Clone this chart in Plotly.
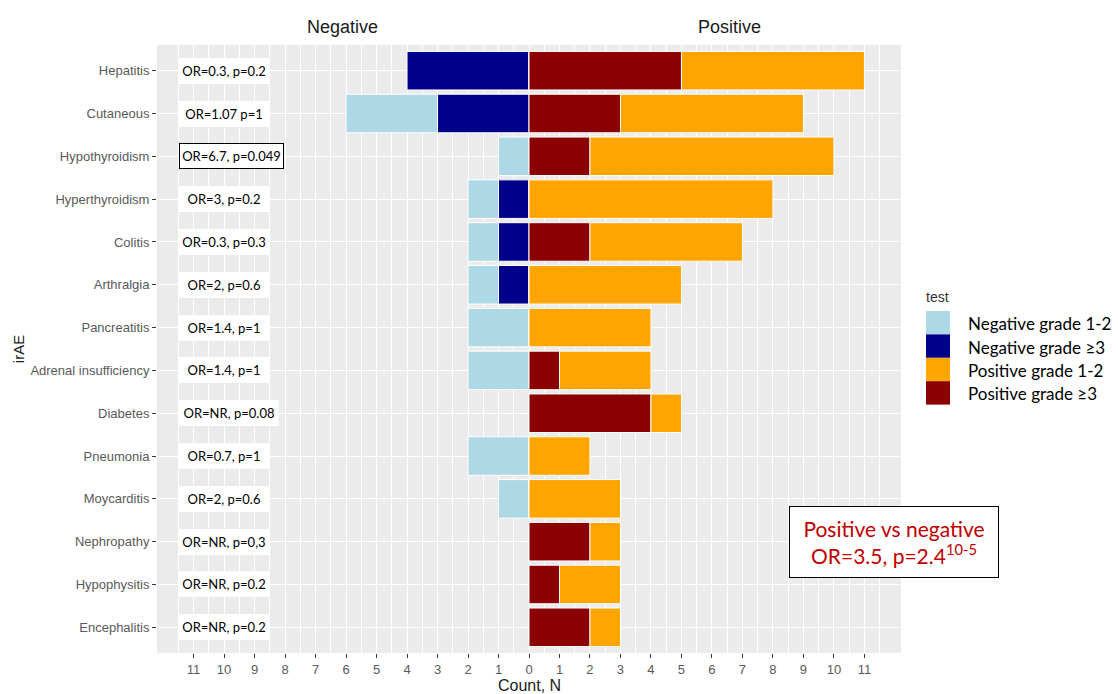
import plotly.graph_objects as go

# irAE categories (top to bottom)
categories = [
    "Hepatitis", "Cutaneous", "Hypothyroidism", "Hyperthyroidism", "Colitis",
    "Arthralgia", "Pancreatitis", "Adrenal insufficiency", "Diabetes",
    "Pneumonia", "Moycarditis", "Nephropathy", "Hypophysitis", "Encephalitis",
]

# counts per group
neg_grade_12 = [0, 3, 1, 1, 1, 1, 2, 2, 0, 2, 1, 0, 0, 0]
neg_grade_3 = [4, 3, 0, 1, 1, 1, 0, 0, 0, 0, 0, 0, 0, 0]
pos_grade_12 = [6, 6, 8, 8, 5, 5, 4, 3, 1, 2, 3, 1, 2, 1]
pos_grade_3 = [5, 3, 2, 0, 2, 0, 0, 1, 4, 0, 0, 2, 1, 2]

# odds ratio labels per category
or_labels = [
    "OR=0.3, p=0.2", "OR=1.07 p=1", "OR=6.7, p=0.049", "OR=3, p=0.2",
    "OR=0.3, p=0.3", "OR=2, p=0.6", "OR=1.4, p=1", "OR=1.4, p=1",
    "OR=NR, p=0.08", "OR=0.7, p=1", "OR=2, p=0.6", "OR=NR, p=0,3",
    "OR=NR, p=0.2", "OR=NR, p=0.2",
]

x_ticks = list(range(-11, 12))
x_tick_text = [str(abs(v)) for v in x_ticks]

legend_names = ["Negative grade 1-2", "Negative grade \u22653",
                "Positive grade 1-2", "Positive grade \u22653"]
COLORS = {
    "Negative grade 1-2": "#ADD8E6",
    "Negative grade \u22653": "#00008B",
    "Positive grade 1-2": "#FFA500",
    "Positive grade \u22653": "#8B0000",
}

fig = go.Figure()

# stacking order: inner segments first, so they sit next to zero
series = [
    ("Negative grade \u22653", [-v for v in neg_grade_3]),
    ("Negative grade 1-2", [-v for v in neg_grade_12]),
    ("Positive grade \u22653", pos_grade_3),
    ("Positive grade 1-2", pos_grade_12),
]
for name, vals in series:
    fig.add_trace(go.Bar(
        y=categories, x=vals, orientation="h", name=name,
        marker=dict(color=COLORS[name], line=dict(color="white", width=1)),
        width=0.9, showlegend=False, hoverinfo="x+y+name",
    ))

# plot area geometry in pixels
W, H = 1118, 694
L, R, T, B = 157, 217, 45, 41
PW, PH = W - L - R, H - T - B


def px(xp):
    return (xp - L) / PW


def py(yp):
    return (H - B - yp) / PH


FONT_UI = "Liberation Sans, Arial, sans-serif"
FONT_TXT = "Lato, Carlito, Calibri, sans-serif"

# odds-ratio boxes in the left panel
wide_boxes = {"Diabetes": 94, "Hypothyroidism": 99}
for cat, lab in zip(categories, or_labels):
    boxed = cat == "Hypothyroidism"
    fig.add_annotation(
        x=-11.48, y=cat, xref="x", yref="y", xanchor="left", yanchor="middle",
        text=lab, showarrow=False, align="center",
        width=wide_boxes.get(cat, 84), height=20,
        bgcolor="white", borderpad=2, borderwidth=1,
        bordercolor="black" if boxed else "white",
        font=dict(family=FONT_TXT, size=13, color="black"),
    )

# panel titles
for label, xpix in (("Negative", 342), ("Positive", 729)):
    fig.add_annotation(
        x=px(xpix), y=py(27), xref="paper", yref="paper", text=label,
        showarrow=False, xanchor="center", yanchor="middle",
        font=dict(family=FONT_UI, size=18, color="#1a1a1a"),
    )

# x-axis title placed under the tick labels
fig.add_annotation(
    x=px(529.5), y=py(685), xref="paper", yref="paper", text="Count, N",
    showarrow=False, xanchor="center", yanchor="middle",
    font=dict(family=FONT_UI, size=16, color="#1a1a1a"),
)

# legend drawn by hand
fig.add_annotation(
    x=px(924), y=py(297), xref="paper", yref="paper", text="test",
    showarrow=False, xanchor="left", yanchor="middle",
    font=dict(family=FONT_UI, size=14, color="#333333"),
)
sw_top, sw_h = 311, 23.4
for i, name in enumerate(legend_names):
    y0 = sw_top + i * sw_h
    fig.add_shape(
        type="rect", xref="paper", yref="paper",
        x0=px(926), x1=px(950), y0=py(y0 + sw_h), y1=py(y0),
        fillcolor=COLORS[name], line=dict(width=0),
    )
    fig.add_annotation(
        x=px(966), y=py(y0 + sw_h / 2 + 1), xref="paper", yref="paper",
        text=name, showarrow=False, xanchor="left", yanchor="middle",
        font=dict(family=FONT_TXT, size=17, color="black"),
    )

# overall comparison box
fig.add_annotation(
    x=px(894), y=py(541.5), xref="paper", yref="paper",
    text="Positive vs negative<br>OR=3.5, p=2.4<sup>10-5</sup>",
    showarrow=False, xanchor="center", yanchor="middle", align="center",
    width=200, height=62, bgcolor="white", borderpad=4, borderwidth=1,
    bordercolor="black",
    font=dict(family=FONT_TXT, size=21, color="#C00000"),
)

fig.update_layout(
    width=W, height=H, barmode="relative", bargap=0.1,
    margin=dict(l=L, r=R, t=T, b=B, pad=0, autoexpand=False),
    paper_bgcolor="white", plot_bgcolor="#EBEBEB",
    showlegend=False,
    font=dict(family=FONT_UI, color="#4d4d4d"),
)
fig.update_xaxes(
    range=[-12.2, 12.2], tickvals=x_ticks, ticktext=x_tick_text,
    ticks="outside", ticklen=4, tickcolor="#333333", tickwidth=1,
    automargin=False,
    tickfont=dict(size=13, color="#595959", family=FONT_UI),
    showgrid=True, gridcolor="white", gridwidth=1.2, zeroline=False,
    minor=dict(tickvals=[v + 0.5 for v in range(-12, 12)], showgrid=True,
               gridcolor="white", gridwidth=0.6, ticks=""),
    showline=False, fixedrange=True,
)
fig.update_yaxes(
    categoryorder="array", categoryarray=categories, range=[13.6, -0.6],
    ticks="outside", ticklen=4, tickcolor="#333333", tickwidth=1,
    automargin=False,
    tickfont=dict(size=13, color="#595959", family=FONT_UI),
    showgrid=True, gridcolor="white", gridwidth=1.2, zeroline=False,
    title=dict(text="irAE", standoff=2,
               font=dict(size=15, color="#1a1a1a", family=FONT_UI)),
    showline=False, fixedrange=True,
)

fig.write_html("out.html")
